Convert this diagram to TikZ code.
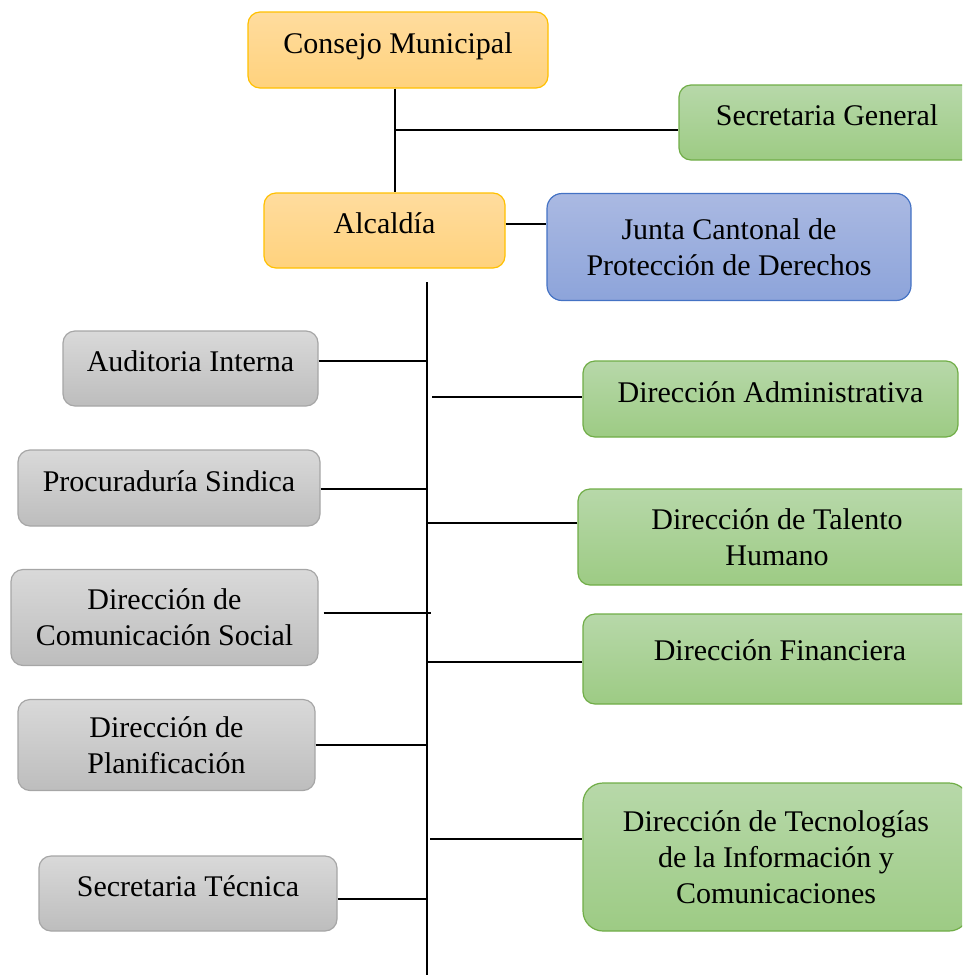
\documentclass[tikz,border=0pt]{standalone}
\usepackage{fontspec}
\setmainfont{Liberation Serif}
\usetikzlibrary{positioning}
\definecolor{oroBorde}{HTML}{FFC000}
\definecolor{oroArriba}{HTML}{FFDC9E}
\definecolor{oroAbajo}{HTML}{FFD27D}
\definecolor{azulBorde}{HTML}{4472C4}
\definecolor{azulArriba}{HTML}{AAB9E2}
\definecolor{azulAbajo}{HTML}{8DA4DA}
\definecolor{verdeBorde}{HTML}{70AD47}
\definecolor{verdeArriba}{HTML}{B7D8A9}
\definecolor{verdeAbajo}{HTML}{9DCB84}
\definecolor{grisBorde}{HTML}{A6A6A6}
\definecolor{grisArriba}{HTML}{D9D9D9}
\definecolor{grisAbajo}{HTML}{BDBDBD}

\begin{document}
\begin{tikzpicture}[x=1pt,y=-1pt,
  caja/.style={rounded corners=12pt,line width=1.2pt,inner sep=0pt,align=center,font=\fontsize{30}{36}\selectfont},
  naranja/.style={caja,draw=oroBorde,top color=oroArriba,bottom color=oroAbajo},
  azul/.style={caja,draw=azulBorde,top color=azulArriba,bottom color=azulAbajo},
  verde/.style={caja,draw=verdeBorde,top color=verdeArriba,bottom color=verdeAbajo},
  gris/.style={caja,draw=grisBorde,top color=grisArriba,bottom color=grisAbajo},
  unalinea/.style={text height=21pt,text depth=15pt},
  linea/.style={line width=1.8pt},
  lineafina/.style={line width=1.2pt}]
\useasboundingbox (0,0) rectangle (962,975);
\clip (0,0) rectangle (962,975);

\node[naranja,unalinea,minimum width=300pt,minimum height=76pt] (cm) at (398,50) {Consejo Municipal};
\node[verde,unalinea,minimum width=296pt,minimum height=75pt] (sg) at (827,122.5) {Secretaria General};
\node[naranja,unalinea,minimum width=241pt,minimum height=75pt] (alc) at (384.5,230.5) {Alcaldía};
\node[azul,minimum width=364pt,minimum height=107pt,rounded corners=15pt] (jun) at (729,247) {Junta Cantonal de\\Protección de Derechos};

\node[gris,unalinea,minimum width=255pt,minimum height=75pt] (aud) at (190.5,368.5) {Auditoria Interna};
\node[gris,unalinea,minimum width=302pt,minimum height=76pt] (pro) at (169,488) {Procuraduría Sindica};
\node[gris,minimum width=307pt,minimum height=96pt] (com) at (164.5,617.5) {Dirección de\\Comunicación Social};
\node[gris,minimum width=297pt,minimum height=91pt] (pla) at (166.5,745) {Dirección de\\Planificación};
\node[gris,unalinea,minimum width=298pt,minimum height=75pt] (st) at (188,893.5) {Secretaria Técnica};

\node[verde,unalinea,minimum width=375pt,minimum height=76pt] (adm) at (770.5,399) {Dirección Administrativa};
\node[verde,minimum width=398pt,minimum height=96pt] (tal) at (777,537) {Dirección de Talento\\Humano};
\node[verde,unalinea,minimum width=394pt,minimum height=90pt,text depth=19pt] (fin) at (780,659) {Dirección Financiera};
\node[verde,minimum width=386pt,minimum height=148pt,rounded corners=20pt] (tec) at (776,857) {Dirección de Tecnologías\\de la Información y\\Comunicaciones};

\coordinate (s0) at (427,282);
\coordinate (s1) at (427,975);
\coordinate (j1) at (395,130);
\coordinate (j2) at (432,397);
\coordinate (j3) at (431,613);
\coordinate (j4) at (430,839);

\draw[linea] ([xshift=-3pt]cm.south) -- ([xshift=-3pt]cm.south |- alc.north);
\draw[linea] (j1) -- (j1 -| sg.west);
\draw[linea] ([yshift=6.5pt]alc.east) -- ([yshift=6.5pt]alc.east -| jun.west);
\draw[linea] (s0) -- (s1);
\draw[linea] ([yshift=7.5pt]aud.east) -- ([yshift=7.5pt]aud.east -| s0);
\draw[linea] (j2) -- (j2 -| adm.west);
\draw[linea] ([yshift=-1pt]pro.east) -- ([yshift=-1pt]pro.east -| s0);
\draw[lineafina] ([yshift=14pt]tal.west) -- ([yshift=14pt]tal.west -| s0);
\draw[linea] ([xshift=5pt]com.east |- j3) -- (j3);
\draw[linea] ([yshift=-3pt]fin.west) -- ([yshift=-3pt]fin.west -| s0);
\draw[linea] (pla.east) -- (pla.east -| s0);
\draw[linea] (j4) -- (j4 -| tec.west);
\draw[linea] ([yshift=-5.5pt]st.east) -- ([yshift=-5.5pt]st.east -| s0);
\end{tikzpicture}
\end{document}
